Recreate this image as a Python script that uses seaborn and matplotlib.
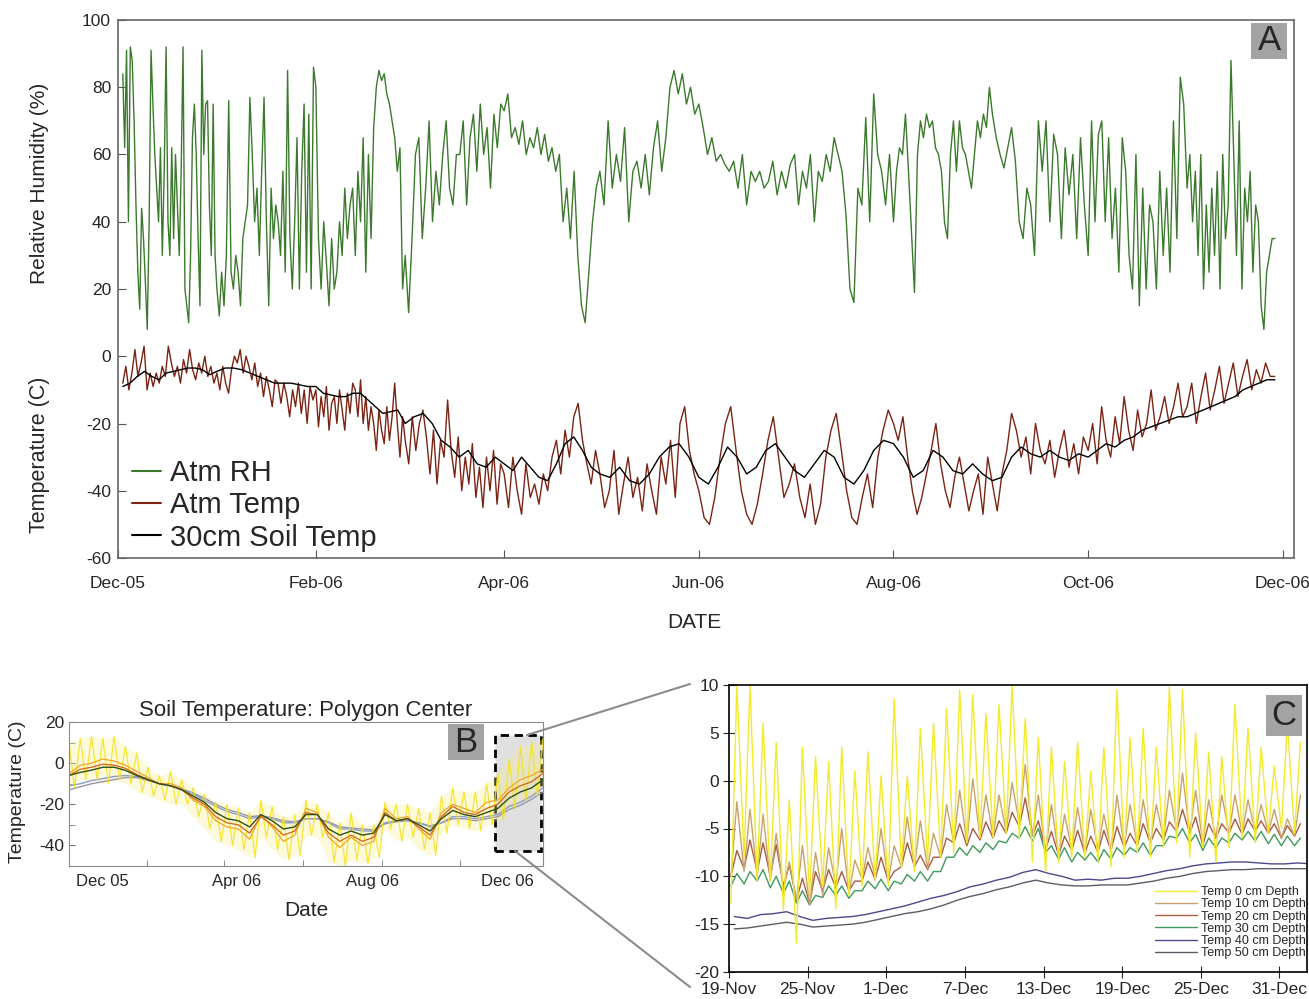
import numpy as np
import pandas as pd
import matplotlib
matplotlib.use('Agg')
import matplotlib.pyplot as plt
from matplotlib.patches import Rectangle
from matplotlib.lines import Line2D
import seaborn as sns

# ========== PANEL A DATA (one list per month) ==========
rh_dec = [84, 62, 91, 40, 92, 88, 70, 45, 25, 14, 44, 35, 22, 8, 40, 91, 75, 60, 50, 40, 62, 30, 55, 92, 40,
          30, 62, 35, 60, 45, 30, 55, 92, 20, 15, 10, 30, 65, 75, 60, 35, 15, 91, 60, 75, 76, 45, 30, 75, 30]
rh_jan = [20, 12, 25, 15, 30, 76, 25, 20, 30, 25, 15, 35, 40, 45, 77, 60, 40, 50, 30, 55, 77, 40, 15, 50, 35,
          45, 40, 30, 55, 25, 85, 35, 20, 40, 65, 20, 55, 75, 25, 72, 20, 86]
rh_feb = [80, 35, 20, 40, 28, 15, 35, 20, 25, 40, 30, 50, 35, 45, 50, 30, 55, 40, 65, 25, 60, 35, 68, 80, 85,
          82, 84, 78, 75, 70, 65, 55, 62, 20]
rh_mar = [30, 13, 35, 60, 65, 35, 50, 70, 40, 55, 45, 60, 70, 50, 45, 60, 60, 70, 45, 65, 72, 55, 75, 60, 68,
          50, 72, 62, 75]
rh_apr = [73, 78, 65, 68, 63, 70, 60, 65, 62, 68, 60, 66, 58, 62, 55, 60, 40, 50, 35, 55, 30, 15, 10, 25, 40, 50]
rh_may = [55, 45, 70, 50, 60, 52, 68, 40, 55, 58, 50, 60, 48, 62, 70, 55, 65, 80, 85, 78, 84, 75, 80, 72]
rh_jun = [75, 68, 60, 65, 58, 60, 57, 55, 58, 50, 60, 45, 55, 52, 55, 50, 52, 58, 48, 55, 50, 57]
rh_jul = [60, 45, 55, 50, 60, 40, 55, 52, 60, 55, 65, 60, 55, 42, 20, 16, 50, 45, 71, 40, 78, 60, 55, 45, 60]
rh_aug = [40, 55, 62, 60, 72, 55, 37, 19, 60, 70, 65, 72, 68, 70, 62, 60, 55, 40, 35, 60, 70, 55, 70, 62, 60,
          55, 50, 60, 70, 65, 72, 68, 80]
rh_sep = [72, 65, 60, 56, 62, 68, 58, 40, 35, 50, 45, 30, 70, 55, 70, 40, 66, 60, 35, 62, 48, 60, 35, 65, 45]
rh_oct = [30, 70, 40, 66, 70, 40, 65, 35, 50, 25, 65, 55, 30, 20, 60, 15, 50, 20, 45, 40, 20, 55, 30, 50, 25,
          70, 35, 83, 75]
rh_nov = [50, 60, 40, 55, 30, 60, 20, 45, 25, 50, 30, 55, 20, 60, 35, 45, 88, 60, 30, 70, 20, 50, 40, 55, 25,
          45, 40, 15, 8, 25, 30, 35]

tmp_dec = [-8, -3, -10, -5, 2, -6, -2, 3, -10, -5, -9, -5, -8, -3, -6, 3, -2, -6, -3, -8, -1, -5, 2, -4, -7,
           -2, -5, 0, -6, -3, -8]
tmp_jan = [-5, -10, -3, -8, -11, -4, 0, -2, 2, -5, 0, -3, -7, -2, -9, -5, -12, -6, -10, -15, -7, -8, -14, -8,
           -12, -18, -10, -15, -8, -17, -10, -20, -9, -13]
tmp_feb = [-10, -21, -12, -18, -9, -22, -14, -12, -20, -10, -16, -22, -11, -17, -8, -10, -18, -7, -20, -12,
           -22, -15, -20, -28, -16, -22, -26, -15, -25, -18, -8, -20, -30, -18]
tmp_mar = [-25, -32, -18, -28, -20, -16, -24, -35, -22, -38, -25, -30, -13, -28, -36, -24, -40, -30, -38, -26,
           -42, -33, -45, -30, -40, -28, -44, -32]
tmp_apr = [-35, -45, -30, -40, -47, -32, -42, -38, -44, -35, -40, -30, -25, -35, -22, -30, -18, -14, -25, -32,
           -38, -28]
tmp_may = [-35, -45, -40, -28, -47, -38, -30, -42, -36, -46, -32, -40, -47, -30, -38, -25, -42, -20, -15, -28, -35]
tmp_jun = [-40, -48, -50, -42, -30, -20, -15, -28, -40, -47, -50, -44, -35, -25, -18, -30, -42, -38]
tmp_jul = [-32, -42, -48, -38, -50, -44, -30, -22, -17, -28, -40, -48, -50, -42, -35, -45, -30, -22, -16]
tmp_aug = [-20, -25, -18, -30, -40, -47, -42, -35, -28, -20, -32, -40, -45, -36, -30, -38, -46, -40, -35, -47, -30]
tmp_sep = [-38, -46, -35, -28, -17, -22, -30, -24, -35, -20, -28, -32, -25, -36, -28, -22, -33, -26, -35, -24]
tmp_oct = [-28, -20, -32, -15, -25, -30, -18, -26, -12, -22, -28, -16, -24, -20, -10, -22, -18, -12, -20, -15,
           -8, -18]
tmp_nov = [-15, -8, -20, -12, -5, -16, -10, -3, -14, -8, -2, -12, -6, -1, -10, -4, -8, -2, -6]

soil_dec = [-9, -8, -6, -4.5, -6, -7, -5, -4.5, -4, -3.5, -3.5, -4, -5.5]
soil_jan = [-4.5, -3.5, -3.5, -4, -5, -6, -7, -8, -8, -8, -8.5, -9]
soil_feb = [-9, -11, -11.5, -12, -12, -11, -11, -13, -15, -17, -16.5, -16]
soil_mar = [-20, -18, -17, -20, -25, -27, -30, -28, -32, -33, -30]
soil_apr = [-32, -34, -30, -33, -36, -37, -32, -26, -24, -28, -33]
soil_may = [-35, -36, -33, -37, -38, -35, -30, -27, -26, -30]
soil_jun = [-36, -38, -33, -27, -30, -35, -33, -28, -26, -30]
soil_jul = [-34, -36, -32, -28, -30, -36, -38, -34, -28, -25]
soil_aug = [-26, -30, -36, -34, -28, -30, -34, -35, -32, -35]
soil_sep = [-37, -36, -30, -27, -29, -30, -28, -30, -31, -29]
soil_oct = [-30, -28, -26, -27, -25, -24, -22, -21, -20, -19, -18]
soil_nov = [-18, -17, -16, -15, -14, -13, -12, -10, -9, -8, -7]

a_ticks = ['2005-12-01', '2006-02-01', '2006-04-01', '2006-06-01', '2006-08-01', '2006-10-01', '2006-12-01']

# ========== PANEL B DATA (polygon center, ~10 day steps from Nov 2005) ==========
b_0cm_max = [10, 12, 13, 12, 13, 8, 5, -2, -6, -4, -8, -12, -15, -19, -20, -22, -24, -18, -21, -26, -25, -18,
             -20, -24, -29, -24, -30, -30, -19, -20, -20, -22, -24, -16, -12, -14, -14, -10, -5, 2, 8, 10, 12]
b_0cm_min = [-12, -8, -8, -10, -8, -10, -14, -16, -18, -20, -20, -26, -32, -38, -40, -42, -46, -36, -42, -47,
             -45, -35, -36, -48, -50, -47, -49, -46, -32, -38, -36, -42, -45, -34, -30, -32, -33, -30, -28, -22,
             -18, -16, -12]
b_10cm = [-5, -1, 0, 2, 1, -1, -4, -7, -10, -10, -12, -18, -21, -28, -31, -32, -37, -25, -31, -38, -35, -22,
          -24, -36, -41, -36, -40, -38, -22, -27, -26, -32, -37, -24, -20, -22, -24, -19, -18, -12, -8, -6, -3]
b_20cm = [-6, -3, -2, -0.5, -1, -2.5, -5.5, -8, -10, -11, -13, -17, -20, -26, -29, -30, -34, -26, -30, -35, -33,
          -24, -25, -34, -38, -35, -38, -36, -24, -28, -27, -31, -35, -26, -21, -24, -25, -22, -20, -14, -11, -9, -5]
b_30cm = [-6, -4.5, -3.4, -2, -2, -3.5, -6, -8, -10, -11, -13, -16, -19, -24, -27, -28, -31, -25, -28, -32, -31,
          -25, -25, -32, -35, -33, -35, -34, -25, -28, -27, -30, -33, -27, -23, -25, -26, -24, -22, -17, -14, -12, -8]
b_40cm = [-11, -10, -8.5, -7.5, -6.5, -6, -6.5, -8, -10, -11, -12.5, -15, -18, -21, -23.5, -25, -27, -26, -27,
          -29, -29, -27, -27, -29, -32, -32, -33, -33, -29, -28, -28, -29, -31, -29, -26, -26, -27, -26, -25, -21,
          -19, -16, -12]
b_50cm = [-13, -11.5, -10, -9, -8, -7, -7, -8.5, -10, -11, -12.5, -14.5, -17, -20, -22.5, -24, -26, -25.5, -26.5,
          -28, -28.5, -27, -27, -28.5, -31, -31.5, -32, -32.5, -29.5, -28.5, -28, -29, -30.5, -29, -27, -27, -28,
          -27, -26, -22.5, -20.5, -17.5, -14]
b_label_dates = ['2005-12-01', '2006-04-01', '2006-08-01', '2006-12-01']
b_mark_dates = ['2006-01-10', '2006-03-21', '2006-05-31', '2006-08-10', '2006-10-19']

# ========== PANEL C DATA (daily max / min from 19 Nov 2006) ==========
c0_max = [10, 10, 6, 4, -2, 3.5, 2.5, 2, 3.5, 1, 3, 0.5, 8.5, 0.5, 5.5, 6, 7.5, 9.5, 9, 7, 8, 10, 6.5, 4.5,
          3.5, 2, 4, 1, 3.5, 9.5, 4.5, 5.5, 3.5, 9.8, 9.5, 5, 3, 2.5, 8, 5.5, 3.5, 1.5, 6, 4]
c0_min = [-12.8, -8, -10.5, -10.5, -13.5, -17, -12, -11, -13.4, -12, -11, -10.5, -11, -9, -9.5, -8.5, -8, -7.5,
          -6.5, -6, -6, -5.5, -6, -8.5, -9.5, -8.5, -8, -8, -8.5, -9, -8, -7.5, -8, -7, -6.5, -8, -7, -8.5, -7,
          -6, -6.5, -5.5, -5, -5.5]
c10_max = [-2.2, -3, -3.5, -5.5, -8.5, -6.8, -7.5, -7, -5, -8.3, -7, -5, -6.8, -3.8, -4.2, -5.5, -2.5, -1, 0.2,
           -1.5, -1.5, -0.2, 1.7, -1.5, -2.5, -3.5, -2.8, -3, -3.5, -1.5, -2.5, -2, -2.5, -1, 0.8, -1, -2, -1.5,
           -1.5, -2, -2.5, -3, -4, -1.5]
c10_min = [-10, -9.5, -10, -10.5, -11.5, -12.5, -13, -12, -11, -11.8, -10.3, -10, -10.5, -9, -9, -9.2, -8, -6.5,
           -6.5, -6, -5.8, -5.3, -4.5, -5.8, -7.5, -7.8, -7.2, -7.5, -7.2, -7.2, -7, -6.8, -6.5, -6, -5.2, -5.5,
           -6.5, -6, -5.5, -5.5, -5.3, -5.5, -6, -5.8]
c20_max = [-7.3, -6.2, -6.5, -6.7, -8.8, -10.2, -9.5, -9.3, -9.5, -10.5, -8.5, -8, -9.5, -6.5, -7.8, -8, -6,
           -4.5, -5, -4.3, -4.2, -3.3, -1.8, -4.2, -5.3, -5.8, -5.2, -5.8, -5.2, -4.8, -5.5, -4.5, -5, -4.3, -3,
           -3.8, -4.5, -4.5, -4, -4, -4.2, -4.5, -4.7, -4.5]
c20_min = [-10, -9.2, -9.5, -10, -11, -12.5, -12.8, -11.5, -11.2, -11.5, -10.5, -10.3, -10.5, -9, -9, -9.3, -8,
           -6.5, -6.8, -6.2, -6, -5.5, -4.8, -5.8, -7.2, -7.8, -7.3, -7.6, -7.5, -7.3, -7, -6.8, -6.5, -6.2, -5.3,
           -5.5, -6.8, -6, -5.5, -5.6, -5.3, -5.5, -6, -5.8]
c30_max = [-9.7, -9.5, -9.3, -10, -10.5, -11.5, -12, -11, -11, -11.5, -10.5, -10.3, -10.5, -9.8, -9.5, -9.5, -8,
           -7, -6.8, -6.5, -6.3, -5.5, -4.8, -5, -6.8, -7, -7.5, -7.5, -7.2, -7, -7, -6.5, -6.8, -5.8, -5, -5.6,
           -6, -6, -5.5, -5.3, -5.3, -5.6, -5.8, -6.0]
c30_min = [-11, -10.8, -10.5, -11.2, -11.8, -12.8, -13, -12.2, -12, -12.3, -11.5, -11.3, -11.5, -10.8, -10.5,
           -10.5, -9.5, -8, -7.8, -7.5, -7.2, -6.5, -6, -6.3, -7.5, -8.2, -8.5, -8.3, -8.5, -8.2, -7.8, -7.5, -7.8,
           -6.8, -6, -6.5, -7.3, -7, -6.5, -6.2, -6.3, -6.6, -6.8, -6.8]
c40 = [-14.2, -14.4, -14.0, -13.9, -13.7, -14.2, -14.6, -14.4, -14.3, -14.2, -14.0, -13.7, -13.4, -13.1, -12.7,
       -12.3, -12.0, -11.6, -11.1, -10.8, -10.4, -10.1, -9.6, -9.3, -9.7, -10.0, -10.4, -10.3, -10.4, -10.2,
       -10.2, -10.0, -9.7, -9.4, -9.2, -8.9, -8.7, -8.6, -8.5, -8.5, -8.6, -8.7, -8.7, -8.6, -8.7]
c50 = [-15.5, -15.4, -15.2, -15.0, -14.8, -15.0, -15.3, -15.2, -15.1, -15.0, -14.8, -14.5, -14.2, -13.9, -13.7,
       -13.4, -13.0, -12.5, -12.1, -11.8, -11.4, -11.1, -10.7, -10.4, -10.7, -10.9, -11.0, -11.0, -10.9, -10.9,
       -10.9, -10.7, -10.5, -10.2, -10.0, -9.7, -9.5, -9.4, -9.3, -9.3, -9.2, -9.2, -9.2, -9.2, -9.2]
c_tick_labels = ['19-Nov', '25-Nov', '1-Dec', '7-Dec', '13-Dec', '19-Dec', '25-Dec', '31-Dec']
depth_labels = ['Temp 0 cm Depth', 'Temp 10 cm Depth', 'Temp 20 cm Depth',
                'Temp 30 cm Depth', 'Temp 40 cm Depth', 'Temp 50 cm Depth']
c_colors = ['#f4ea2a', '#c9a26b', '#a85c40', '#3f9a5c', '#4a4a8c', '#5c5c68']
b_colors = ['#f5e21a', '#f2a623', '#d2621a', '#2f4f14', '#8c9cc8', '#9a94a8']

# ========== BUILD SERIES ==========
month_starts = pd.date_range('2005-12-01', periods=13, freq='MS')
a_first = pd.Timestamp('2005-12-02 12:00')
a_last = pd.Timestamp('2006-11-28 12:00')


def month_series(lists):
    times, vals = [], []
    for i, v in enumerate(lists):
        t0 = max(month_starts[i], a_first)
        t1 = min(month_starts[i + 1], a_last)
        times.extend(pd.date_range(t0, t1, periods=len(v) + 1)[:-1])
        vals.extend(v)
    times.append(a_last)
    vals.append(lists[-1][-1])
    return pd.DatetimeIndex(times), np.array(vals, dtype=float)


rh_t, rh = month_series([rh_dec, rh_jan, rh_feb, rh_mar, rh_apr, rh_may,
                         rh_jun, rh_jul, rh_aug, rh_sep, rh_oct, rh_nov])
tmp_t, tmp = month_series([tmp_dec, tmp_jan, tmp_feb, tmp_mar, tmp_apr, tmp_may,
                           tmp_jun, tmp_jul, tmp_aug, tmp_sep, tmp_oct, tmp_nov])
soil_t, soil = month_series([soil_dec, soil_jan, soil_feb, soil_mar, soil_apr, soil_may,
                             soil_jun, soil_jul, soil_aug, soil_sep, soil_oct, soil_nov])

b_start = pd.Timestamp('2005-11-01')
b_days = np.linspace(0, 427, len(b_30cm))
b_t = b_start + pd.to_timedelta(b_days, unit='D')
b0_days = np.concatenate([b_days, b_days + 5])
b0_vals = np.concatenate([b_0cm_max, b_0cm_min])
order = np.argsort(b0_days)
b0_t = b_start + pd.to_timedelta(b0_days[order], unit='D')
b0_v = b0_vals[order]

c_start = pd.Timestamp('2006-11-19')


def zigzag(mx, mn):
    d = np.arange(len(mx))
    t = np.concatenate([d + 0.15, d + 0.6])
    v = np.concatenate([mn, mx])
    o = np.argsort(t)
    return c_start + pd.to_timedelta(t[o], unit='D'), v[o]


c_series = [zigzag(c0_max, c0_min), zigzag(c10_max, c10_min),
            zigzag(c20_max, c20_min), zigzag(c30_max, c30_min),
            (c_start + pd.to_timedelta(np.arange(len(c40)) + 0.4, unit='D'), np.array(c40)),
            (c_start + pd.to_timedelta(np.arange(len(c50)) + 0.4, unit='D'), np.array(c50))]

# ========== FIGURE ==========
sns.set_style('ticks')
plt.rcParams['font.family'] = ['Liberation Sans', 'DejaVu Sans']
plt.rcParams['axes.unicode_minus'] = False

W, H = 1309, 999
fig = plt.figure(figsize=(W / 100, H / 100), dpi=100)


def px_axes(l, t, r, b):
    return fig.add_axes([l / W, 1 - b / H, (r - l) / W, (b - t) / H])


def fx(x):
    return x / W


def fy(y):
    return 1 - y / H


def letter_box(x0, y0, x1, y1, letter):
    fig.add_artist(Rectangle((fx(x0), fy(y1)), fx(x1) - fx(x0), fy(y0) - fy(y1),
                             transform=fig.transFigure, fc='#a3a3a3', ec='none', zorder=5))
    fig.text(fx((x0 + x1) / 2), fy((y0 + y1) / 2), letter, ha='center', va='center',
             fontsize=25, zorder=6)


line_kw = dict(estimator=None, errorbar=None)

# --- Panel A ---
axA = px_axes(118, 20, 1294, 558)
sns.lineplot(x=rh_t, y=rh, ax=axA, color='#3b7a2c', lw=1.0, **line_kw)
sns.lineplot(x=tmp_t, y=tmp, ax=axA, color='#7a2414', lw=1.0, **line_kw)
sns.lineplot(x=soil_t, y=soil, ax=axA, color='black', lw=1.0, **line_kw)
axA.set_xlim(pd.Timestamp('2005-12-01'), pd.Timestamp('2006-12-04 12:00'))
axA.set_ylim(-60, 100)
axA.set_yticks(range(-60, 101, 20))
axA.set_xticks(pd.to_datetime(a_ticks))
axA.set_xticklabels([pd.Timestamp(d).strftime('%b-%y') for d in a_ticks])
axA.tick_params(direction='in', length=6, labelsize=12.5, color='#555555', pad=5)
axA.tick_params(axis='x', pad=13)
for s in axA.spines.values():
    s.set_color('#666666')
    s.set_linewidth(1.2)
axA.set_xlabel('')
axA.set_ylabel('')
handles = [Line2D([], [], color='#3b7a2c', lw=1.5), Line2D([], [], color='#7a2414', lw=1.5),
           Line2D([], [], color='black', lw=1.5)]
axA.legend(handles, ['Atm RH', 'Atm Temp', '30cm Soil Temp'], loc='lower left',
           bbox_to_anchor=(0.012, 0.012), frameon=False, fontsize=21, handlelength=1.0,
           handletextpad=0.3, labelspacing=0.14, borderaxespad=0, borderpad=0.0)
fig.text(fx(40), fy(183), 'Relative Humidity (%)', rotation=90, ha='center', va='center', fontsize=15)
fig.text(fx(40), fy(455), 'Temperature (C)', rotation=90, ha='center', va='center', fontsize=15.5)
fig.text(fx(694), fy(622), 'DATE', ha='center', va='center', fontsize=15)
letter_box(1251, 23, 1287, 59, 'A')

# --- Panel B ---
axB = px_axes(69, 722, 543, 866)
axB.add_patch(Rectangle((pd.Timestamp('2006-11-20'), -42.7),
                        pd.Timestamp('2006-12-31 12:00') - pd.Timestamp('2006-11-20'), 56.3,
                        fc='#e0e0e0', ec='black', ls=(0, (3, 2)), lw=2, zorder=0.5))
axB.fill_between(b_t, b_0cm_min, b_0cm_max, color='#faf08a', alpha=0.3, lw=0, zorder=1)
sns.lineplot(x=b_t, y=b_50cm, ax=axB, color=b_colors[5], lw=1.0, **line_kw)
sns.lineplot(x=b_t, y=b_40cm, ax=axB, color=b_colors[4], lw=1.0, **line_kw)
sns.lineplot(x=b0_t, y=b0_v, ax=axB, color=b_colors[0], lw=0.9, alpha=0.85, **line_kw)
sns.lineplot(x=b_t, y=b_10cm, ax=axB, color=b_colors[1], lw=0.9, **line_kw)
sns.lineplot(x=b_t, y=b_20cm, ax=axB, color=b_colors[2], lw=0.9, **line_kw)
sns.lineplot(x=b_t, y=b_30cm, ax=axB, color=b_colors[3], lw=1.0, **line_kw)
axB.set_xlim(b_start, b_start + pd.Timedelta(days=427))
axB.set_ylim(-50, 20)
axB.set_yticks([-40, -20, 0, 20])
axB.set_yticks([-30, -10, 10], minor=True)
axB.set_xticks(pd.to_datetime(b_label_dates))
axB.set_xticklabels([pd.Timestamp(d).strftime('%b %y') for d in b_label_dates])
axB.set_xticks(pd.to_datetime(b_mark_dates), minor=True)
axB.tick_params(which='major', axis='x', length=0, labelsize=12, pad=6)
axB.tick_params(which='major', axis='y', direction='in', length=4, labelsize=12.5, color='#777777')
axB.tick_params(which='minor', direction='in', length=4, color='#777777')
for s in axB.spines.values():
    s.set_color('#8a8a8a')
axB.set_xlabel('')
axB.set_ylabel('')
axB.set_title('Soil Temperature: Polygon Center', fontsize=16, pad=4)
fig.text(fx(18), fy(792), 'Temperature (C)', rotation=90, ha='center', va='center', fontsize=14)
fig.text(fx(306), fy(910), 'Date', ha='center', va='center', fontsize=15)
letter_box(448, 724, 484, 760, 'B')

# connector lines from the zoom box to panel C
fig.add_artist(Line2D([fx(527), fx(690)], [fy(735), fy(684)], transform=fig.transFigure,
                      color='#8c8c8c', lw=1.5))
fig.add_artist(Line2D([fx(515), fx(690)], [fy(851), fy(987)], transform=fig.transFigure,
                      color='#8c8c8c', lw=1.5))

# --- Panel C ---
axC = px_axes(729, 685, 1307, 972)
for (t, v), col in zip(c_series[::-1], c_colors[::-1]):
    sns.lineplot(x=t, y=v, ax=axC, color=col, lw=1.0, **line_kw)
axC.set_xlim(c_start, c_start + pd.Timedelta(days=44.1))
axC.set_ylim(-20, 10)
axC.set_yticks(range(-20, 11, 5))
c_ticks = pd.date_range(c_start, periods=len(c_tick_labels), freq='6D')
axC.set_xticks(c_ticks)
axC.set_xticklabels(c_tick_labels)
axC.tick_params(direction='inout', length=8, labelsize=12.5, pad=1)
axC.tick_params(axis='x', pad=3)
axC.tick_params(axis='y', pad=3)
for s in axC.spines.values():
    s.set_color('black')
    s.set_linewidth(1.2)
axC.set_xlabel('')
axC.set_ylabel('')
c_handles = [Line2D([], [], color=c, lw=1.0) for c in c_colors]
axC.legend(c_handles, depth_labels, loc='lower right', bbox_to_anchor=(1.0, 0.04), frameon=False,
           fontsize=9, handlelength=3.4, handletextpad=0.3, labelspacing=0.02, borderaxespad=0,
           borderpad=0.1)
letter_box(1266, 695, 1302, 736, 'C')

fig.savefig('out.png', dpi=100)
